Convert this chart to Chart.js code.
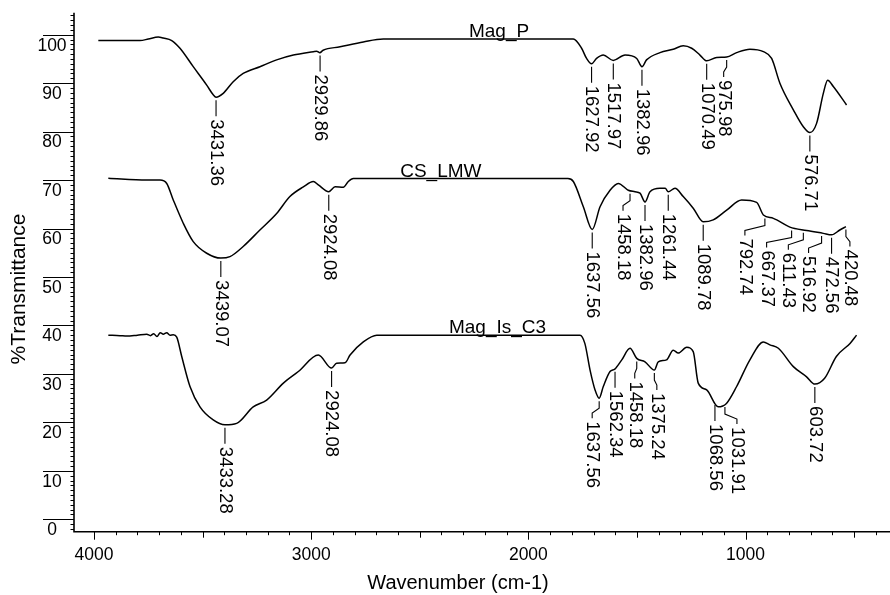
<!DOCTYPE html>
<html>
<head>
  <title>FTIR spectra</title>
  <script src="https://cdn.jsdelivr.net/npm/chart.js@4.4.0/dist/chart.umd.min.js"></script>
  <style>
    html, body { margin: 0; padding: 0; background: #fff; }
    #wrap { width: 890px; height: 595px; }
  </style>
</head>
<body>
<div id="wrap"><canvas id="ftir" width="890" height="595"></canvas></div>

<script>
  // wavenumber (cm-1) and %T
  const magP_wn = [3980, 3788, 3750, 3704, 3681, 3642, 3604, 3543, 3481, 3451, 3438, 3405, 3359, 3313, 3236, 3159, 3082,
    2990, 2975, 2960, 2945, 2867, 2760, 2668, 1793, 1755, 1732, 1709, 1686, 1655, 1609, 1555, 1501, 1477, 1456,
    1394, 1333, 1287, 1248, 1210, 1179, 1133, 1087, 1041, 980, 918, 880, 842, 780, 734, 704, 673, 642, 622, 596, 535];
  const magP_T = [98.8, 98.8, 99.1, 99.5, 99.3, 98.8, 97.2, 93.4, 89.6, 87.6, 87.1, 87.9, 90.3, 92.0, 93.4, 94.8, 95.8,
    96.5, 96.6, 96.3, 96.8, 97.5, 98.5, 99.1, 99.1, 97.2, 95.1, 94.0, 95.1, 95.8, 94.7, 95.8, 95.1, 93.4, 94.8,
    96.3, 97.0, 97.7, 97.2, 95.8, 94.6, 95.3, 95.4, 96.3, 97.0, 96.5, 95.1, 90.0, 84.5, 81.0, 79.8, 81.7, 87.9, 90.6, 89.3, 85.5];

  const csLmw_wn = [3934, 3757, 3696, 3665, 3635, 3589, 3543, 3481, 3416, 3374, 3313, 3236, 3159, 3098, 3036, 2990, 2967,
    2919, 2890, 2852, 2829, 2806, 1818, 1793, 1747, 1706, 1670, 1624, 1586, 1540, 1509, 1486, 1463, 1440, 1394,
    1370, 1356, 1325, 1287, 1241, 1195, 1149, 1087, 1018, 949, 918, 872, 796, 719, 642, 604, 566, 538];
  const csLmw_T = [70.4, 70.0, 70.0, 69.3, 65.9, 61.1, 57.3, 54.9, 53.9, 54.2, 56.3, 59.7, 63.1, 66.6, 68.6, 69.7, 69.0,
    67.6, 68.6, 68.5, 69.7, 70.3, 70.3, 69.7, 64.5, 59.8, 64.5, 67.9, 69.3, 67.9, 67.6, 67.3, 65.5, 67.6, 68.3,
    68.3, 67.6, 68.3, 66.6, 64.2, 61.4, 61.8, 63.8, 65.9, 65.4, 62.8, 62.1, 60.3, 59.6, 59.0, 58.7, 59.7, 60.4];

  const magC3_wn = [3934, 3880, 3849, 3800, 3757, 3740, 3725, 3710, 3695, 3681, 3665, 3650, 3635, 3619, 3596, 3558, 3512,
    3451, 3397, 3343, 3267, 3205, 3128, 3059, 2967, 2906, 2883, 2844, 2821, 2760, 2698, 1762, 1740, 1716, 1693,
    1674, 1655, 1624, 1602, 1570, 1532, 1501, 1463, 1420, 1402, 1364, 1333, 1310, 1271, 1241, 1218, 1179, 1126,
    1088, 1041, 980, 918, 888, 849, 780, 719, 681, 636, 582, 519, 489];
  const magC3_T = [38.0, 37.9, 37.8, 38.0, 38.2, 37.9, 38.3, 37.7, 38.5, 38.2, 38.5, 38.0, 38.1, 37.6, 33.6, 27.4, 23.2,
    20.5, 19.5, 19.8, 23.2, 24.6, 28.1, 30.5, 33.9, 31.2, 32.2, 32.3, 33.9, 36.6, 38.0, 38.0, 36.3, 30.8, 26.7,
    25.0, 27.4, 30.5, 31.0, 32.9, 35.3, 33.2, 32.5, 30.8, 32.5, 32.9, 34.9, 34.3, 35.5, 34.6, 28.1, 26.7, 23.2,
    23.9, 27.4, 32.9, 36.6, 36.0, 35.3, 31.5, 29.4, 27.9, 29.1, 33.6, 36.3, 38.0];

  const seriesNames = ['Mag_P', 'CS_LMW', 'Mag_Is_C3'];
  const seriesNameAt = [2135, 2403, 2142];

  // peak labels and the wavenumber their leader hangs from
  const magP_peaks = ['3431.36', '2929.86', '1627.92', '1517.97', '1382.96', '1070.49', '975.98', '576.71'];
  const magP_peakAt = [3438, 2959, 1709, 1609, 1477, 1179, 1087, 704];
  const csLmw_peaks = ['3439.07', '2924.08', '1637.56', '1458.18', '1382.96', '1261.44', '1089.78',
    '792.74', '667.37', '611.43', '516.92', '472.56', '420.48'];
  const csLmw_peakAt = [3416, 2919, 1706, 1532, 1463, 1356, 1195, 911, 788, 734, 650, 604, 538];
  const magC3_peaks = ['3433.28', '2924.08', '1637.56', '1562.34', '1458.18', '1375.24', '1068.56', '1031.91', '603.72'];
  const magC3_peakAt = [3397, 2906, 1674, 1601, 1501, 1420, 1141, 1095, 681];

  const xTickLabels = [4000, 3000, 2000, 1000];
  const yTickLabels = [0, 10, 20, 30, 40, 50, 60, 70, 80, 90, 100];

  // sideways shift of bent leaders (px)
  const magP_bend = [0, 0, 0, 0, 0, 0, -3, 0];
  const csLmw_bend = [0, 0, 0, -7, 0, 0, 0, -20, -25, -15, -13, 0, 4];
  const magC3_bend = [0, 0, -7, 0, -2, 2.5, 0, 12, 0];

  const FONT = "'Liberation Sans', Arial, sans-serif";

  function toPoints(xs, ys) {
    return xs.map((x, i) => ({ x: x, y: ys[i] }));
  }

  function curveAt(xs, ys, w) {
    for (let i = 0; i < xs.length - 1; i++) {
      if (w <= xs[i] && w >= xs[i + 1]) {
        const t = (xs[i] - w) / (xs[i] - xs[i + 1]);
        return ys[i] + t * (ys[i + 1] - ys[i]);
      }
    }
    return ys[ys.length - 1];
  }

  function drawPeaks(ctx, sx, sy, wn, T, texts, at, bend) {
    texts.forEach((txt, i) => {
      const px = sx.getPixelForValue(at[i]);
      let y = sy.getPixelForValue(curveAt(wn, T, at[i])) + 3;
      let tx = px;
      ctx.beginPath();
      ctx.moveTo(px, y);
      if (bend[i]) {
        y += 7; ctx.lineTo(px, y);
        tx = px + bend[i]; y += 5; ctx.lineTo(tx, y);
        y += 5; ctx.lineTo(tx, y);
      } else {
        y += 16; ctx.lineTo(px, y);
      }
      ctx.stroke();
      ctx.save();
      ctx.translate(tx, y + 3);
      ctx.rotate(Math.PI / 2);
      ctx.textAlign = 'left';
      ctx.textBaseline = 'middle';
      ctx.fillText(txt, 0, 0);
      ctx.restore();
    });
  }

  const axesAndLabels = {
    id: 'axesAndLabels',
    afterDraw(chart) {
      const ctx = chart.ctx;
      const sx = chart.scales.x, sy = chart.scales.y;
      const area = chart.chartArea;
      ctx.save();
      ctx.strokeStyle = '#000';
      ctx.fillStyle = '#000';

      ctx.lineWidth = 1.6;
      ctx.beginPath();
      ctx.moveTo(area.left, area.top);
      ctx.lineTo(area.left, area.bottom);
      ctx.lineTo(area.right, area.bottom);
      ctx.stroke();

      // y ticks: minor every 1, long lines at the labelled ones
      ctx.lineWidth = 1;
      for (let v = -2; v <= 104; v++) {
        const y = Math.round(sy.getPixelForValue(v)) + 0.5;
        const major = yTickLabels.includes(v);
        ctx.beginPath();
        ctx.moveTo(area.left - (major ? 31 : 3.5), y);
        ctx.lineTo(area.left, y);
        ctx.stroke();
      }
      ctx.font = '17.5px ' + FONT;
      ctx.textAlign = 'center';
      ctx.textBaseline = 'middle';
      yTickLabels.forEach(v => {
        ctx.fillText(String(v), 52, sy.getPixelForValue(v) + 11);
      });

      // x ticks every 100
      for (let w = 400; w <= 4000; w += 100) {
        const x = Math.round(sx.getPixelForValue(w)) + 0.5;
        const len = w % 1000 === 0 ? 8 : (w % 500 === 0 ? 6 : 3.5);
        ctx.beginPath();
        ctx.moveTo(x, area.bottom);
        ctx.lineTo(x, area.bottom + len);
        ctx.stroke();
      }
      xTickLabels.forEach(w => {
        ctx.fillText(String(w), sx.getPixelForValue(w), area.bottom + 23);
      });

      ctx.font = '20px ' + FONT;
      ctx.fillText('Wavenumber (cm-1)', 458, 583);
      ctx.save();
      ctx.translate(19, 289);
      ctx.rotate(-Math.PI / 2);
      ctx.font = '21px ' + FONT;
      ctx.fillText('%Transmittance', 0, 0);
      ctx.restore();

      // series names sitting on the flat stretch
      const curves = [[magP_wn, magP_T], [csLmw_wn, csLmw_T], [magC3_wn, magC3_T]];
      ctx.font = '19px ' + FONT;
      ctx.textBaseline = 'alphabetic';
      seriesNames.forEach((name, i) => {
        const c = curves[i];
        const y = sy.getPixelForValue(curveAt(c[0], c[1], seriesNameAt[i])) - 2;
        ctx.fillText(name, sx.getPixelForValue(seriesNameAt[i]), y);
      });

      ctx.font = '18.5px ' + FONT;
      ctx.lineWidth = 1.1;
      drawPeaks(ctx, sx, sy, magP_wn, magP_T, magP_peaks, magP_peakAt, magP_bend);
      drawPeaks(ctx, sx, sy, csLmw_wn, csLmw_T, csLmw_peaks, csLmw_peakAt, csLmw_bend);
      drawPeaks(ctx, sx, sy, magC3_wn, magC3_T, magC3_peaks, magC3_peakAt, magC3_bend);
      ctx.restore();
    }
  };

  const lineStyle = {
    showLine: true,
    borderColor: '#000',
    borderWidth: 1.5,
    pointRadius: 0,
    cubicInterpolationMode: 'monotone',
    fill: false
  };

  new Chart(document.getElementById('ftir'), {
    type: 'scatter',
    data: {
      datasets: [
        Object.assign({ label: seriesNames[0], data: toPoints(magP_wn, magP_T) }, lineStyle),
        Object.assign({ label: seriesNames[1], data: toPoints(csLmw_wn, csLmw_T) }, lineStyle),
        Object.assign({ label: seriesNames[2], data: toPoints(magC3_wn, magC3_T) }, lineStyle)
      ]
    },
    options: {
      responsive: false,
      animation: false,
      devicePixelRatio: 1,
      layout: { padding: { left: 74, right: 0, top: 12.7, bottom: 63.3 } },
      plugins: { legend: { display: false }, tooltip: { enabled: false } },
      scales: {
        x: { type: 'linear', reverse: true, min: 335, max: 4092, display: false },
        y: { type: 'linear', min: -2.56, max: 104.54, display: false }
      }
    },
    plugins: [axesAndLabels]
  });
</script>
</body>
</html>
